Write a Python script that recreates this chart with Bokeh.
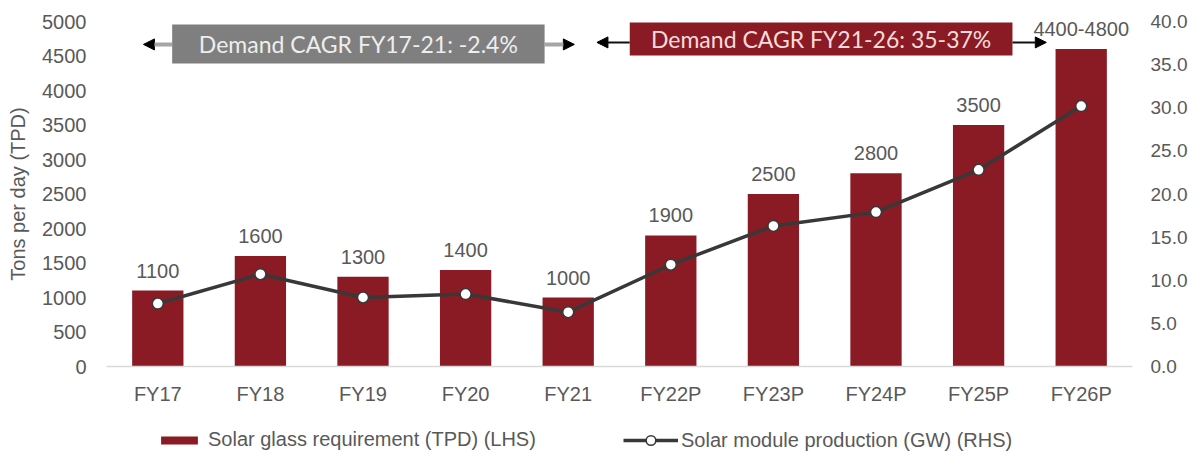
from bokeh.plotting import figure
from bokeh.layouts import column
from bokeh.models import (Range1d, LinearAxis, FactorRange, SingleIntervalTicker,
                          NumeralTickFormatter, Legend, LegendItem, Arrow, NormalHead,
                          Label, BoxAnnotation, ColumnDataSource)
from bokeh.core.properties import value
from bokeh.embed import file_html
from bokeh.resources import INLINE

# ---- data ----
years = ["FY17", "FY18", "FY19", "FY20", "FY21", "FY22P", "FY23P", "FY24P", "FY25P", "FY26P"]
glass_tpd = [1100, 1600, 1300, 1400, 1000, 1900, 2500, 2800, 3500, 4600]
glass_labels = ["1100", "1600", "1300", "1400", "1000", "1900", "2500", "2800", "3500", "4400-4800"]
module_gw = [7.3, 10.7, 8.0, 8.4, 6.3, 11.8, 16.3, 17.9, 22.8, 30.2]

cagr_texts = ["Demand CAGR FY17-21: -2.4%", "Demand CAGR FY21-26: 35-37%"]
series_names = ["Solar glass requirement (TPD) (LHS)", "Solar module production (GW) (RHS)"]

BAR = "#8A1B24"
LINE = "#383838"
TXT = "#595959"
FONT = "Liberation Sans"

src = ColumnDataSource(dict(x=years, glass=glass_tpd, lab=glass_labels, gw=module_gw))

xr = FactorRange(factors=years, range_padding=0)
p = figure(width=1190, height=407, x_range=xr,
           y_range=Range1d(0, 5000), output_backend="svg", toolbar_location=None,
           min_border_left=106, min_border_right=57, min_border_top=21, min_border_bottom=40)
p.extra_y_ranges = {"gw": Range1d(0, 40)}
p.outline_line_color = None
p.xgrid.grid_line_color = None
p.ygrid.grid_line_color = None
p.background_fill_color = "white"
p.border_fill_color = "white"

bar_style = dict(width=0.5, fill_color=BAR, line_color=None)
line_style = dict(line_color=LINE, line_width=3.5)
dot_style = dict(size=11, fill_color="white", line_color=LINE, line_width=1.5)

bars = p.vbar(x="x", top="glass", source=src, **bar_style)
p.text(x="x", y="glass", text="lab", source=src, y_offset=-20, text_align="center",
       text_baseline="middle", text_font=value(FONT), text_font_size="20px", text_color=TXT)

line = p.line(x="x", y="gw", source=src, y_range_name="gw", **line_style)
dots = p.scatter(x="x", y="gw", source=src, y_range_name="gw", **dot_style)

# axes
yax = p.yaxis[0]
yax.ticker = SingleIntervalTicker(interval=500, num_minor_ticks=0)
yax.axis_label = "Tons per day (TPD)"
yax.axis_label_text_font = FONT
yax.axis_label_text_font_style = "normal"
yax.axis_label_text_font_size = "20px"
yax.axis_label_text_color = TXT
yax.axis_label_standoff = 10
yax.major_label_text_font = FONT
yax.major_label_text_font_size = "20px"
yax.major_label_text_color = TXT
yax.major_label_standoff = 20
yax.axis_line_color = None
yax.major_tick_line_color = None
yax.minor_tick_line_color = None
yax.major_tick_out = 0

rax = LinearAxis(y_range_name="gw", ticker=SingleIntervalTicker(interval=5, num_minor_ticks=0),
                 formatter=NumeralTickFormatter(format="0.0"))
rax.major_label_text_font = FONT
rax.major_label_text_font_size = "19px"
rax.major_label_text_color = TXT
rax.major_label_standoff = 18
rax.axis_line_color = None
rax.major_tick_line_color = None
rax.minor_tick_line_color = None
rax.major_tick_out = 0
p.add_layout(rax, "right")

xax = p.xaxis[0]
xax.axis_line_color = "#d9d9d9"
xax.axis_line_width = 1.5
xax.major_tick_line_color = None
xax.minor_tick_line_color = None
xax.major_tick_out = 0
xax.major_label_standoff = 16
xax.major_label_text_font = FONT
xax.major_label_text_font_size = "20px"
xax.major_label_text_color = TXT

# CAGR annotations (x in synthetic category units: category i spans i..i+1)
def arrow(x0, x1, y, color, lw):
    p.add_layout(Arrow(x_start=x0, y_start=y, x_end=x1, y_end=y,
                       start=None, end=NormalHead(size=11, fill_color="black", line_color="black"),
                       line_color=color, line_width=lw))

arrow(0.64, 0.36, 4668, "#a6a6a6", 4)
arrow(4.27, 4.56, 4668, "#a6a6a6", 4)
arrow(5.10, 4.78, 4697, "#111111", 2)
arrow(8.83, 9.16, 4697, "#111111", 2)

p.add_layout(BoxAnnotation(left=0.64, right=4.27, bottom=4393, top=4957,
                           fill_color="#7f7f7f", fill_alpha=1, line_color=None))
p.add_layout(BoxAnnotation(left=5.10, right=8.83, bottom=4509, top=4986,
                           fill_color=BAR, fill_alpha=1, line_color=None))
p.add_layout(Label(x=(0.64 + 4.27) / 2, y=(4393 + 4957) / 2, text=cagr_texts[0],
                   text_align="center", text_baseline="middle", text_font="Lato",
                   text_font_size="23px", text_color="#eeeeee"))
p.add_layout(Label(x=(5.10 + 8.83) / 2, y=(4509 + 4986) / 2, text=cagr_texts[1],
                   text_align="center", text_baseline="middle", text_font="Lato",
                   text_font_size="23px", text_color="#f6dcdc"))

# ---- legend strip: a second figure sharing the x range; its copies of the series
# lie outside its visible y window, so only their legend swatches show ----
lg = figure(width=1190, height=45, x_range=xr, y_range=Range1d(9000, 9001),
            output_backend="svg", toolbar_location=None, min_border=0,
            x_axis_location=None, y_axis_location=None)
lg.outline_line_color = None
lg.xgrid.grid_line_color = None
lg.ygrid.grid_line_color = None
lg_bar = lg.vbar(x="x", top="glass", source=src, **bar_style)
lg_line = lg.line(x="x", y="gw", source=src, **line_style)
lg_dot = lg.scatter(x="x", y="gw", source=src, **dot_style)

def legend(items, loc, gw, gh, standoff):
    L = Legend(items=items, location=loc, orientation="horizontal", glyph_width=gw, glyph_height=gh,
               label_text_font=FONT, label_text_font_size="20px", label_text_color=TXT,
               label_standoff=standoff, padding=0, spacing=0, margin=0, border_line_color=None,
               background_fill_alpha=0)
    lg.add_layout(L, "center")

legend([LegendItem(label=series_names[0], renderers=[lg_bar])], (50, 1), 46, 10, 6)
legend([LegendItem(label=series_names[1], renderers=[lg_line, lg_dot])], (517, 0), 55, 24, 3)

open("out.html", "w").write(file_html(column(p, lg, spacing=0), INLINE))
